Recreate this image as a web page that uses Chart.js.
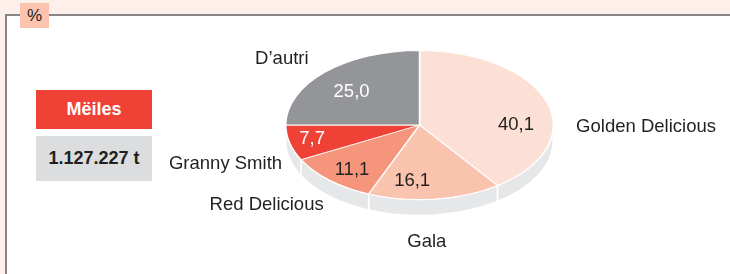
<!DOCTYPE html>
<html>
<head>
<meta charset="utf-8">
<script src="https://cdn.jsdelivr.net/npm/chart.js@4/dist/chart.umd.min.js"></script>
<style>
    html, body { margin: 0; padding: 0; }
    body {
        width: 730px; height: 274px; overflow: hidden; position: relative;
        background: #fdefea;
        font-family: "Liberation Sans", Arial, sans-serif;
        color: #231f20;
    }
    .panel {
        position: absolute; left: 5px; top: 14px; width: 740px; height: 280px;
        background: #fff;
        border-left: 2px solid #8a8585; border-top: 2px solid #8a8585;
    }
    .unit {
        position: absolute; left: 20px; top: 3px; width: 29px; height: 25px;
        background: #fcc4ae; font-size: 17px; line-height: 25px; text-align: center;
    }
    .box {
        position: absolute; left: 36px; width: 116px;
        font-weight: bold; font-size: 18px; text-align: center;
    }
    .box.red { top: 90px; height: 39px; line-height: 39px; background: #ef4136; color: #fff; }
    .box.gray { top: 136px; height: 45px; line-height: 45px; background: #dcddde; color: #231f20; }
    #wrap { position: absolute; left: 0; top: -20px; width: 730px; height: 290px; }
</style>
</head>
<body>
<div class="panel"></div>
<div class="unit">%</div>
<div class="box red">Mëiles</div>
<div class="box gray">1.127.227 t</div>
<div id="wrap"><canvas id="pie" width="730" height="290"></canvas></div>
<script>
const categories = ['Golden Delicious', 'Gala', 'Red Delicious', 'Granny Smith', "D\u2019autri"];
const shares = [40.1, 16.1, 11.1, 7.7, 25.0];
const valueLabels = ['40,1', '16,1', '11,1', '7,7', '25,0'];

const sliceColors = ['#fde0d5', '#f9c3ad', '#f5967c', '#ef4136', '#939598'];
const valueColors = ['#231f20', '#231f20', '#231f20', '#ffffff', '#ffffff'];
const tilt = 0.557;   // vertical squash of the pie
const depth = 16;     // thickness of the side
const sideColor = '#e6e7e8';
// small label nudges so text sits where the original put it
const valueNudge = [[1, 17], [-19, 0], [0, 4], [-10, 1], [3, 6]];
const nameNudge = [[14, 27], [-10, 10], [5, 2], [8, 3], [-5, -7]];

function tiltAround(ctx, a) {
    ctx.translate(a.x, a.y);
    ctx.scale(1, tilt);
    ctx.translate(-a.x, -a.y);
}

const tiltPlugin = {
    id: 'tilt',
    beforeDatasetsDraw(chart) {
        const ctx = chart.ctx;
        const arcs = chart.getDatasetMeta(0).data;
        const a0 = arcs[0];
        const rx = a0.outerRadius, ry = a0.outerRadius * tilt;
        ctx.save();
        arcs.forEach(function (a) {
            const t1 = Math.max(a.startAngle, 0);
            const t2 = Math.min(a.endAngle, Math.PI);
            if (t1 >= t2) return;
            ctx.beginPath();
            ctx.ellipse(a.x, a.y, rx, ry, 0, t1, t2);
            ctx.ellipse(a.x, a.y + depth, rx, ry, 0, t2, t1, true);
            ctx.closePath();
            ctx.fillStyle = sideColor;
            ctx.fill();
            ctx.lineWidth = 1.5;
            ctx.strokeStyle = '#ffffff';
            ctx.stroke();
        });
        ctx.restore();
        ctx.save();
        tiltAround(ctx, a0);
    },
    afterDatasetsDraw(chart) {
        const ctx = chart.ctx;
        ctx.restore();
        const arcs = chart.getDatasetMeta(0).data;
        ctx.save();
        ctx.font = '18.5px "Liberation Sans", Arial, sans-serif';
        ctx.textBaseline = 'middle';
        arcs.forEach(function (a, i) {
            const mid = (a.startAngle + a.endAngle) / 2;
            const r = a.outerRadius;
            // value inside the slice
            ctx.textAlign = 'center';
            ctx.fillStyle = valueColors[i];
            ctx.fillText(valueLabels[i],
                a.x + r * 0.75 * Math.cos(mid) + valueNudge[i][0],
                a.y + r * 0.75 * tilt * Math.sin(mid) + valueNudge[i][1]);
            // category name outside
            const c = Math.cos(mid), s = Math.sin(mid);
            let x = a.x + r * 1.12 * c;
            let y = a.y + r * 1.12 * tilt * s + (s > 0 ? depth : 0);
            if (Math.abs(c) < 0.3) {
                ctx.textAlign = 'center';
                y += 8;
            } else {
                ctx.textAlign = c > 0 ? 'left' : 'right';
            }
            ctx.fillStyle = '#231f20';
            ctx.fillText(categories[i], x + nameNudge[i][0], y + nameNudge[i][1]);
        });
        ctx.restore();
    }
};

new Chart(document.getElementById('pie'), {
    type: 'pie',
    data: {
        labels: categories,
        datasets: [{
            data: shares,
            backgroundColor: sliceColors,
            borderColor: '#ffffff',
            borderWidth: 1.5
        }]
    },
    options: {
        responsive: false,
        animation: false,
        events: [],
        layout: { padding: { left: 285, right: 176, top: 0, bottom: 0 } },
        plugins: {
            legend: { display: false },
            tooltip: { enabled: false }
        }
    },
    plugins: [tiltPlugin]
});
</script>
</body>
</html>
